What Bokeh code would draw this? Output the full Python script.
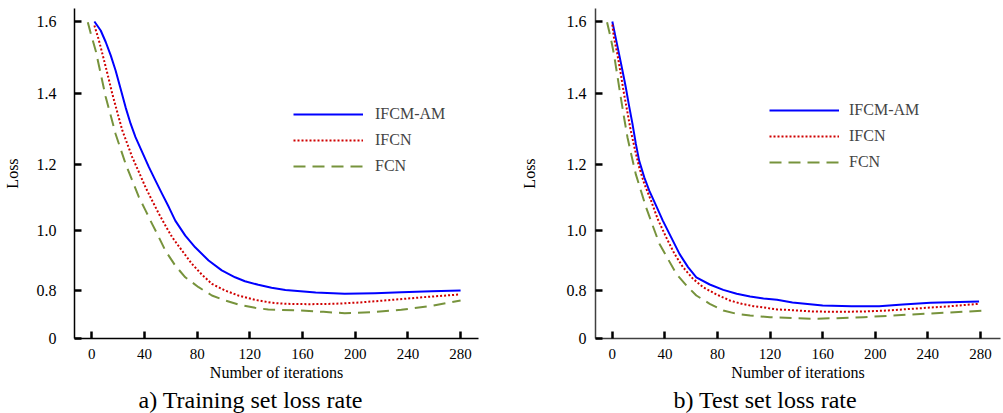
import numpy as np
from bokeh.plotting import figure
from bokeh.layouts import row
from bokeh.models import Range1d, FixedTicker, Legend, LegendItem, Title
from bokeh.embed import file_html
from bokeh.resources import INLINE

# ---------------- data ----------------
X_TICKS = [0, 40, 80, 120, 160, 200, 240, 280]
Y_TICK_LABELS = ["0", "0.8", "1.0", "1.2", "1.4", "1.6"]
Y_TICK_VALUES = [0.0, 0.8, 1.0, 1.2, 1.4, 1.6]
# the drawn y axis is not linear: positions of the labelled ticks along it
Y_TICK_POS = [0, 48, 108, 174, 245, 317]

SERIES_NAMES = ["IFCM-AM", "IFCN", "FCN"]

# a) Training set
train_am_x = [2, 6.8, 10.6, 14.4, 18.1, 21.9, 25.7, 29.5, 33.2, 38.3, 43.4, 48.3, 53.4, 58.5,
              63.4, 71, 78.5, 88.7, 98.7, 108.8, 116.3, 126.4, 136.5, 147, 170, 192, 215, 235,
              258, 280]
train_am_y = [1.600, 1.575, 1.543, 1.506, 1.464, 1.413, 1.361, 1.315, 1.277, 1.235, 1.192,
              1.152, 1.111, 1.071, 1.030, 0.983, 0.944, 0.900, 0.867, 0.844, 0.831, 0.819,
              0.809, 0.802, 0.765, 0.745, 0.755, 0.772, 0.788, 0.800]
train_ifcn_x = [2, 5.1, 8.1, 11.9, 15.6, 19.4, 23.2, 27, 30.7, 35.8, 40.8, 45.8, 50.9, 55.9,
                61, 68.5, 76, 83.6, 91.2, 101.2, 111.3, 123.9, 136.5, 147, 165, 184, 203, 222,
                252, 279]
train_ifcn_y = [1.589, 1.552, 1.510, 1.455, 1.399, 1.347, 1.296, 1.258, 1.221, 1.177, 1.131,
                1.091, 1.051, 1.015, 0.978, 0.933, 0.889, 0.853, 0.822, 0.800, 0.717, 0.645,
                0.595, 0.578, 0.572, 0.578, 0.600, 0.633, 0.689, 0.733]
train_fcn_x = [-3, -0.7, 3, 6.8, 10.6, 14.4, 18.1, 21.9, 25.7, 30.7, 35.8, 40.8, 45.8, 50.9,
               55.9, 63.4, 71, 81.1, 91.2, 101.2, 111.3, 124, 134, 159, 176, 192, 213, 235,
               257, 280]
train_fcn_y = [1.598, 1.566, 1.519, 1.455, 1.390, 1.338, 1.286, 1.244, 1.202, 1.152, 1.101,
               1.061, 1.020, 0.978, 0.933, 0.883, 0.844, 0.811, 0.717, 0.633, 0.567, 0.511,
               0.483, 0.467, 0.444, 0.422, 0.440, 0.478, 0.539, 0.633]

# b) Test set
test_am_x = [0, 2.5, 5.1, 7.7, 10.2, 12.7, 15.3, 17.9, 20.4, 24.3, 28.1, 33.2, 38.4, 44.7,
             51.1, 57.6, 63.9, 74.1, 84.4, 94.6, 104.8, 115, 125.3, 137, 160, 182, 203, 221,
             242, 279]
test_am_y = [1.600, 1.556, 1.510, 1.464, 1.418, 1.366, 1.315, 1.258, 1.211, 1.161, 1.121,
             1.076, 1.030, 0.978, 0.922, 0.878, 0.844, 0.820, 0.802, 0.745, 0.700, 0.667,
             0.645, 0.600, 0.550, 0.539, 0.539, 0.567, 0.594, 0.617]
test_ifcn_x = [0, 1.2, 3.8, 6.4, 8.9, 11.5, 14, 17.1, 20.4, 24.3, 29.4, 34.5, 40.9, 47.3,
               53.7, 61.4, 69.1, 79.3, 89.5, 98.5, 107.4, 114, 125.3, 133, 152, 171, 191, 210,
               227, 254, 279]
test_ifcn_y = [1.591, 1.556, 1.510, 1.455, 1.399, 1.347, 1.296, 1.244, 1.192, 1.142, 1.091,
               1.035, 0.978, 0.922, 0.878, 0.839, 0.811, 0.733, 0.633, 0.578, 0.539, 0.522,
               0.483, 0.478, 0.450, 0.445, 0.450, 0.467, 0.494, 0.533, 0.578]
test_fcn_x = [-4, -1.3, 1.2, 3.8, 6.4, 8.9, 11.5, 14.6, 17.9, 21.7, 25.6, 30.7, 35.8, 42.2,
              48.6, 56.3, 63.9, 74.1, 84.4, 94.6, 104.8, 120, 152, 171, 191, 210, 227, 256,
              284]
test_fcn_y = [1.598, 1.556, 1.510, 1.450, 1.390, 1.333, 1.277, 1.225, 1.170, 1.121, 1.071,
              1.015, 0.956, 0.906, 0.856, 0.817, 0.717, 0.578, 0.467, 0.411, 0.383, 0.355,
              0.328, 0.339, 0.355, 0.378, 0.400, 0.433, 0.467]

FONT = "Liberation Serif"
COLORS = ["#0000FF", "#D00000", "#77933C"]
DASHES = ["solid", "2 2", "12 7"]


def to_axis(v):
    return np.interp(np.asarray(v, dtype=float), Y_TICK_VALUES, Y_TICK_POS)


def make_chart(series, caption, width, x_range, min_left, min_right, ylab_standoff,
               yaxis_label_standoff, legend_loc, label_standoff, caption_offset, axis_color):
    p = figure(width=width, height=413, x_range=Range1d(*x_range), y_range=Range1d(0, 330),
               output_backend="svg", toolbar_location=None,
               min_border_left=min_left, min_border_right=min_right,
               min_border_top=8, min_border_bottom=75)
    p.outline_line_color = None
    p.xgrid.visible = False
    p.ygrid.visible = False
    p.background_fill_color = "white"
    p.border_fill_color = "white"

    renderers = []
    for (xs, ys), c, d in zip(series, COLORS, DASHES):
        r = p.line(xs, to_axis(ys), line_color=c, line_width=2, line_dash=d,
                   line_join="round")
        renderers.append(r)

    p.xaxis.ticker = FixedTicker(ticks=X_TICKS)
    p.xaxis.axis_label = "Number of iterations"
    p.yaxis.ticker = FixedTicker(ticks=Y_TICK_POS)
    p.yaxis.major_label_overrides = {pos: lab for pos, lab in zip(Y_TICK_POS, Y_TICK_LABELS)}
    p.yaxis.axis_label = "Loss"
    for ax in (p.xaxis, p.yaxis):
        ax.axis_line_color = axis_color
        ax.axis_line_width = 1.5
        ax.major_tick_in = 7
        ax.major_tick_out = 0
        ax.major_tick_line_width = 2.5
        ax.major_tick_line_color = "black"
        ax.minor_tick_line_color = None
        ax.major_label_text_color = "black"
        ax.major_label_text_font = FONT
        ax.axis_label_text_font = FONT
        ax.axis_label_text_font_style = "normal"
        ax.axis_label_text_color = "black"
        ax.axis_label_text_font_size = "16px"
    p.xaxis.major_label_text_font_size = "15px"
    p.xaxis.major_label_standoff = 10
    p.xaxis.axis_label_standoff = 2
    p.yaxis.major_label_text_font_size = "16px"
    p.yaxis.major_label_standoff = ylab_standoff
    p.yaxis.axis_label_standoff = yaxis_label_standoff

    legend = Legend(items=[LegendItem(label=n, renderers=[r]) for n, r in zip(SERIES_NAMES, renderers)],
                    location=legend_loc, glyph_width=70, glyph_height=20, label_height=20,
                    spacing=6, padding=0, margin=0, border_line_color=None,
                    background_fill_alpha=0, label_standoff=label_standoff,
                    label_text_font=FONT, label_text_font_size="16px")
    p.add_layout(legend)

    cap = Title(text=caption, align="left", offset=caption_offset, text_font=FONT,
                text_font_size="24px", text_font_style="normal", text_color="black", standoff=2)
    p.add_layout(cap, "below")
    return p


p1 = make_chart([(train_am_x, train_am_y), (train_ifcn_x, train_ifcn_y), (train_fcn_x, train_fcn_y)],
                "a) Training set loss rate", 505, (-13.1, 293.6), 72, 27, 18, 13,
                (219, 162), 12, 64, "black")
p2 = make_chart([(test_am_x, test_am_y), (test_ifcn_x, test_ifcn_y), (test_fcn_x, test_fcn_y)],
                "b) Test set loss rate", 498, (-12.8, 295.3), 90, 3, 9, 26,
                (174, 166), 10, 78, "#404040")

layout = row(p1, p2)
open("out.html", "w").write(file_html(layout, INLINE))
